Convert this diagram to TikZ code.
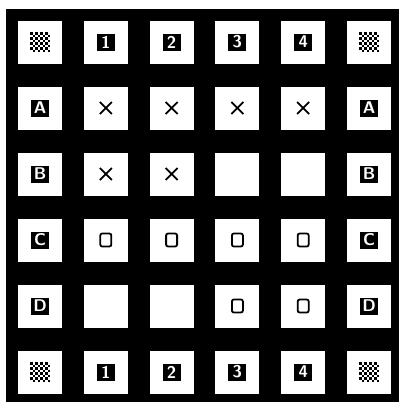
\documentclass[tikz,border=0pt]{standalone}
\usetikzlibrary{positioning}

\begin{document}
\begin{tikzpicture}[
    x=1pt, y=-1pt, % pixel-like units, y pointing down
    board/.style={fill=black}, % Dark board behind the cells
    cell/.style={fill=white, minimum width=44pt, minimum height=43pt, inner sep=0pt}, % White cells
    tag/.style={fill=black, text=white, minimum width=18pt, minimum height=17pt,
        inner sep=0pt, font=\sffamily\bfseries\fontsize{17}{17}\selectfont}, % Row/column tags
    cross/.style={line width=1.8pt}, % Style for x marks
    ring/.style={line width=1.8pt, rounded corners=2pt} % Style for o marks
]

    \useasboundingbox (0,0) rectangle (399,402);

    % Board
    \fill[board] (6,9) rectangle (399,402);

    % Cells (6 x 6)
    \foreach \r in {0,...,5}
        \foreach \c in {0,...,5}
            \node[cell] (cell-\r-\c) at ({40+65.8*\c},{42+66*\r}) {};

    % Column tags, top and bottom
    \foreach \c in {1,...,4} {
        \node[tag] (top-\c) at (cell-0-\c) {\c};
        \node[tag] (bot-\c) at (cell-5-\c) {\c};
    }

    % Row tags, left and right
    \foreach \r/\t in {1/A, 2/B, 3/C, 4/D} {
        \node[tag] (left-\r) at (cell-\r-0) {\t};
        \node[tag] (right-\r) at (cell-\r-5) {\t};
    }

    % Corner patterns
    \foreach \r/\c in {0/0, 0/5, 5/0, 5/5}
        \foreach \i in {0,...,7}
            \foreach \j in {0,...,7} {
                \pgfmathtruncatemacro\k{mod(\i+\j,2)}
                \ifnum\k=0
                    \fill ([shift={(-10+2.5*\i,-10+2.5*\j)}]cell-\r-\c.center) rectangle ++(2.5,2.5);
                \fi
            }

    % x marks
    \foreach \r/\c in {1/1, 1/2, 1/3, 1/4, 2/1, 2/2} {
        \draw[cross] ([shift={(-6,-6)}]cell-\r-\c.center) -- ([shift={(6,6)}]cell-\r-\c.center);
        \draw[cross] ([shift={(-6,6)}]cell-\r-\c.center) -- ([shift={(6,-6)}]cell-\r-\c.center);
    }

    % o marks
    \foreach \r/\c in {3/1, 3/2, 3/3, 3/4, 4/3, 4/4}
        \draw[ring] ([shift={(-5.5,-6.5)}]cell-\r-\c.center) rectangle ([shift={(5.5,6.5)}]cell-\r-\c.center);

\end{tikzpicture}
\end{document}
